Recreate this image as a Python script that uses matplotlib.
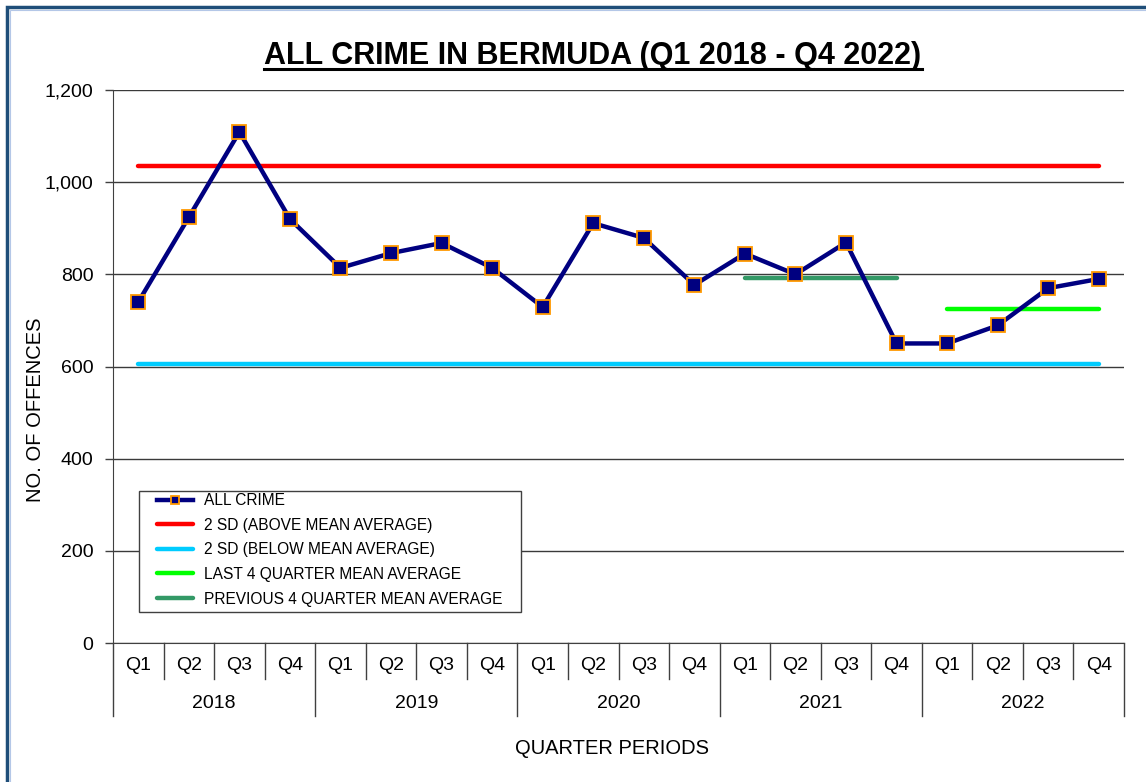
import matplotlib
matplotlib.use("Agg")
import matplotlib.pyplot as plt
from matplotlib.lines import Line2D
from matplotlib.patches import Rectangle
from matplotlib.ticker import FuncFormatter

plt.rcParams['font.family'] = ['Liberation Sans', 'DejaVu Sans']

years = ["2018", "2019", "2020", "2021", "2022"]
quarters = ["Q1", "Q2", "Q3", "Q4"]
all_crime = [740, 924, 1109, 920, 814, 846, 868, 814, 729, 911,
             879, 777, 845, 800, 869, 650, 650, 689, 770, 790]
sd_above = 1034
sd_below = 606
last4_mean = 725
prev4_mean = 791
yticks = [0, 200, 400, 600, 800, 1000, 1200]

W, H = 1146, 782
fig = plt.figure(figsize=(W / 100, H / 100), dpi=100)
fig.patch.set_facecolor("white")

ax_l, ax_r, ax_t, ax_b = 113, 1124, 90, 643
axw, axh = ax_r - ax_l, ax_b - ax_t
ax = fig.add_axes([ax_l / W, 1 - ax_b / H, axw / W, axh / H])

n = len(all_crime)
x = list(range(n))

# reference lines
ax.plot([0, n - 1], [sd_above] * 2, color="#FF0000", lw=3.2, solid_capstyle="round",
        label="2 SD (ABOVE MEAN AVERAGE)", zorder=3)
ax.plot([0, n - 1], [sd_below] * 2, color="#00CCFF", lw=3.2, solid_capstyle="round",
        label="2 SD (BELOW MEAN AVERAGE)", zorder=3)
ax.plot([16, 19], [last4_mean] * 2, color="#00FF00", lw=3.2, solid_capstyle="round",
        label="LAST 4 QUARTER MEAN AVERAGE", zorder=3)
ax.plot([12, 15], [prev4_mean] * 2, color="#339966", lw=3.2, solid_capstyle="round",
        label="PREVIOUS 4 QUARTER MEAN AVERAGE", zorder=3)
crime_line, = ax.plot(x, all_crime, color="#000080", lw=3.2, marker="s", markersize=10.5,
                      markerfacecolor="#000080", markeredgecolor="#FF9900",
                      markeredgewidth=1.3, label="ALL CRIME", zorder=4)

ax.set_xlim(-0.5, n - 0.5)
ax.set_ylim(0, 1200)
ax.set_yticks(yticks)
ax.yaxis.set_major_formatter(FuncFormatter(lambda v, p: f"{int(v):,}"))
ax.tick_params(axis="y", direction="out", length=6, width=1, color="#404040",
               labelsize=14, pad=8)
ax.set_xticks([])
ax.yaxis.grid(True, color="#3a3a3a", lw=1)
ax.set_axisbelow(True)
for s in ["top", "right"]:
    ax.spines[s].set_visible(False)
ax.spines["left"].set_color("#404040")
ax.spines["bottom"].set_color("#404040")

# multi-level category axis
trans = ax.get_xaxis_transform()
q_len = (679 - ax_b) / axh
y_len = (716 - ax_b) / axh
for i in range(n + 1):
    b = i - 0.5
    ln = y_len if i % 4 == 0 else q_len
    ax.plot([b, b], [0, -ln], transform=trans, color="#404040", lw=1, clip_on=False)
for i in range(n):
    ax.text(i, -(666 - ax_b) / axh, quarters[i % 4], transform=trans, ha="center",
            va="center", fontsize=14)
for k, yr in enumerate(years):
    ax.text(4 * k + 1.5, -(703 - ax_b) / axh, yr, transform=trans, ha="center",
            va="center", fontsize=14)

# legend box (drawn separately to match the reference padding)
lx0, lx1, ly0, ly1 = 139, 521, 491, 612
ax.add_patch(Rectangle(((lx0 - ax_l) / axw, (ax_b - ly1) / axh),
                       (lx1 - lx0) / axw, (ly1 - ly0) / axh, transform=ax.transAxes,
                       facecolor="white", edgecolor="#404040", lw=1, zorder=6,
                       clip_on=False))
handles = [crime_line] + ax.lines[0:4]
leg = ax.legend(handles=handles, labels=[h.get_label() for h in handles],
                loc="upper left",
                bbox_to_anchor=((157 - ax_l) / axw, (ax_b - 493) / axh),
                borderaxespad=0, borderpad=0, frameon=False, fontsize=11.2,
                handlelength=2.3, handletextpad=0.7, labelspacing=0.62,
                markerscale=0.6)
leg.set_zorder(7)

# axis titles
fig.text(36 / W, 1 - 410 / H, "NO. OF OFFENCES", rotation=90, ha="center", va="center",
         fontsize=14.5)
fig.text(612 / W, 1 - 748 / H, "QUARTER PERIODS", ha="center", va="center", fontsize=14.5)

# title with underline
title = fig.text(593 / W, 1 - 64 / H, "ALL CRIME IN BERMUDA (Q1 2018 - Q4 2022)",
                 ha="center", va="baseline", fontsize=22, fontweight="bold")
fig.canvas.draw()
bb = title.get_window_extent(renderer=fig.canvas.get_renderer())
uy = 1 - 68.5 / H
fig.add_artist(Line2D([bb.x0 / W, bb.x1 / W], [uy, uy], transform=fig.transFigure,
                      color="black", lw=2.2))

# figure border
fig.add_artist(Rectangle((7 / W, -0.05), 1.2, 1 - 7 / H + 0.05, transform=fig.transFigure,
                         fill=False, edgecolor="#1F4E79", lw=2.5))
fig.add_artist(Rectangle((9.5 / W, -0.05), 1.2, 1 - 9.5 / H + 0.05, transform=fig.transFigure,
                         fill=False, edgecolor="#B4C7E7", lw=0.8))

fig.savefig("out.png", dpi=100, facecolor="white")
